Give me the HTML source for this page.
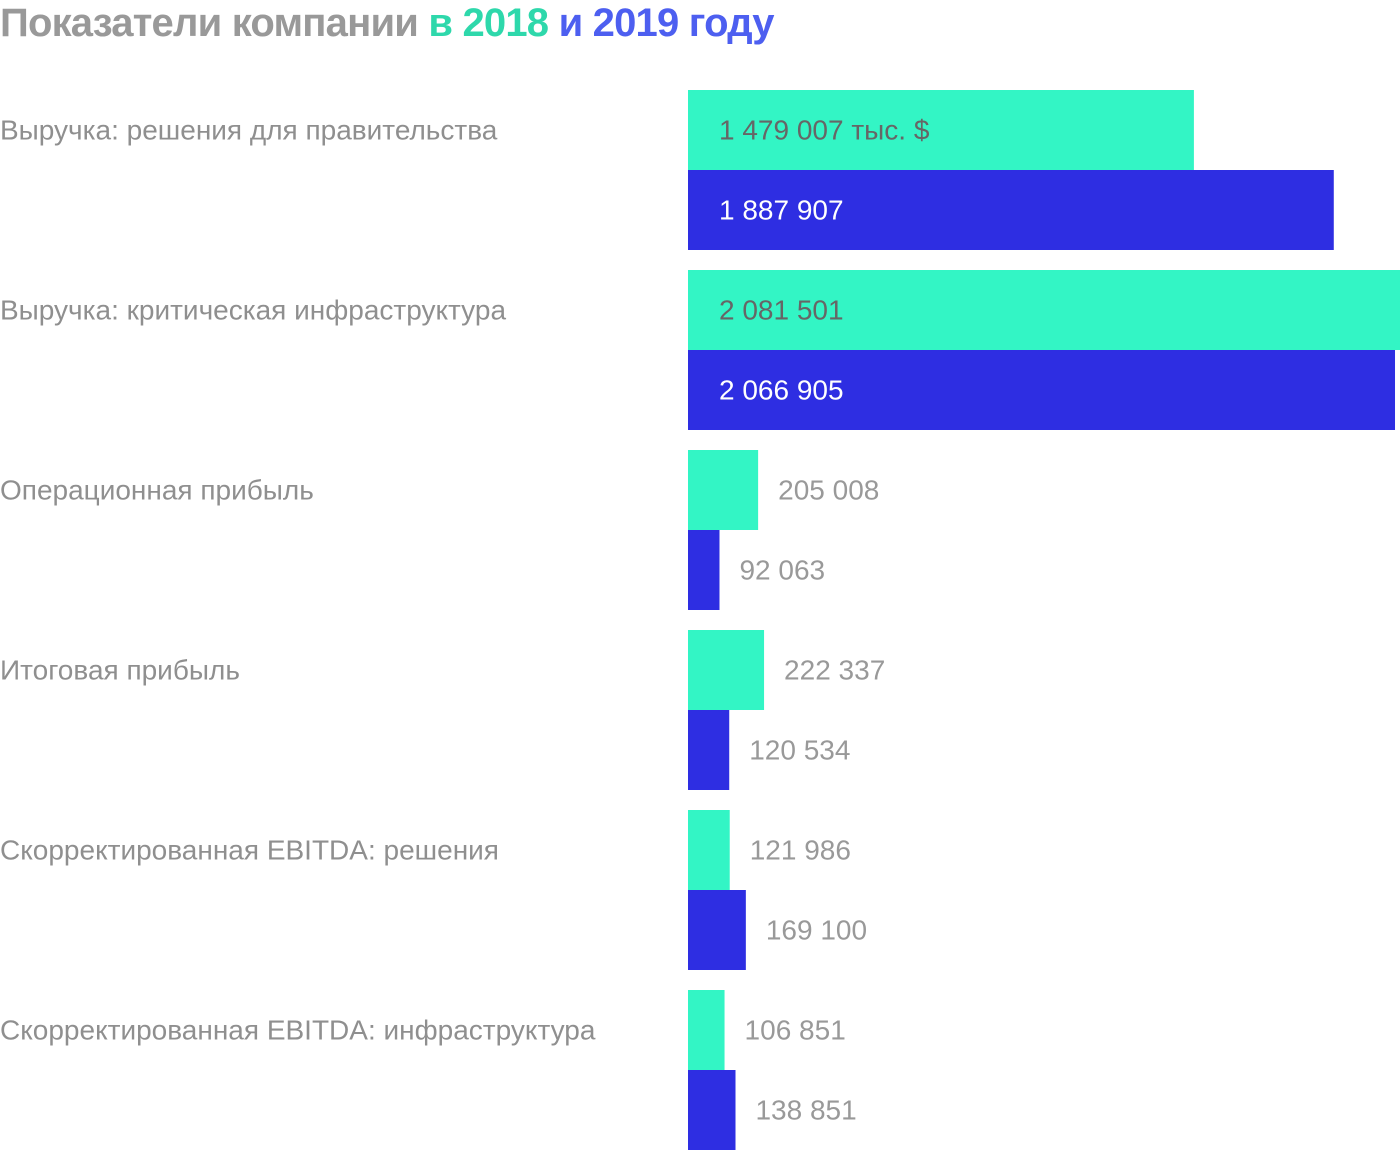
<!DOCTYPE html>
<html><head><meta charset="utf-8">
<style>
html,body{margin:0;padding:0;background:#fff;}
body{width:1400px;height:1152px;overflow:hidden;font-family:"Liberation Sans","DejaVu Sans",sans-serif;}
#title{position:absolute;left:0;top:0;font-size:40px;font-weight:bold;color:#999;letter-spacing:-0.8px;line-height:46px;white-space:nowrap;}
</style></head>
<body>
<div id="title">Показатели компании <span style="color:#2ed8ab">в 2018</span> <span style="color:#4d5ff0">и 2019 году</span></div>
<svg id="chart" width="1400" height="1152" style="position:absolute;left:0;top:0"></svg>
<script>
const categories = ["Выручка: решения для правительства","Выручка: критическая инфраструктура","Операционная прибыль","Итоговая прибыль","Скорректированная EBITDA: решения","Скорректированная EBITDA: инфраструктура"];
const values2018 = [1479007, 2081501, 205008, 222337, 121986, 106851];
const values2019 = [1887907, 2066905, 92063, 120534, 169100, 138851];
const labels2018 = ["1 479 007 тыс. $","2 081 501","205 008","222 337","121 986","106 851"];
const labels2019 = ["1 887 907","2 066 905","92 063","120 534","169 100","138 851"];

const svg = document.getElementById('chart');
const NS = 'http://www.w3.org/2000/svg';
const x0 = 688, maxW = 712, maxV = 2081501;
const xScale = v => v / maxV * maxW;
const groupY = i => 90 + i * 180;
const barH = 80;

function txt(x, y, s, color, name) {
  const t = document.createElementNS(NS, 'text');
  t.setAttribute('x', x); t.setAttribute('y', y);
  t.setAttribute('font-size', '28'); t.setAttribute('fill', color);
  t.setAttribute('dominant-baseline', 'central');
  t.setAttribute('font-family', '"Liberation Sans", sans-serif');
  t.textContent = s;
  
  
  svg.appendChild(t);
}
function bar(y, v, color, name) {
  const r = document.createElementNS(NS, 'rect');
  r.setAttribute('x', x0); r.setAttribute('y', y);
  r.setAttribute('width', xScale(v)); r.setAttribute('height', barH);
  r.setAttribute('fill', color);
  
  
  svg.appendChild(r);
}
categories.forEach((c, i) => {
  const y = groupY(i);
  txt(0, y + 40, c, '#8f8f8f', 'category-label');
  bar(y, values2018[i], '#33f5c5', 'bar-2018');
  bar(y + barH, values2019[i], '#2e2ee2', 'bar-2019');
  const w1 = xScale(values2018[i]), w2 = xScale(values2019[i]);
  if (w1 > 300) txt(x0 + 31, y + 40, labels2018[i], '#666', 'value-label-2018');
  else txt(x0 + w1 + 20, y + 40, labels2018[i], '#999', 'value-label-2018');
  if (w2 > 300) txt(x0 + 31, y + 120, labels2019[i], '#fff', 'value-label-2019');
  else txt(x0 + w2 + 20, y + 120, labels2019[i], '#999', 'value-label-2019');
});
</script>
</body></html>
